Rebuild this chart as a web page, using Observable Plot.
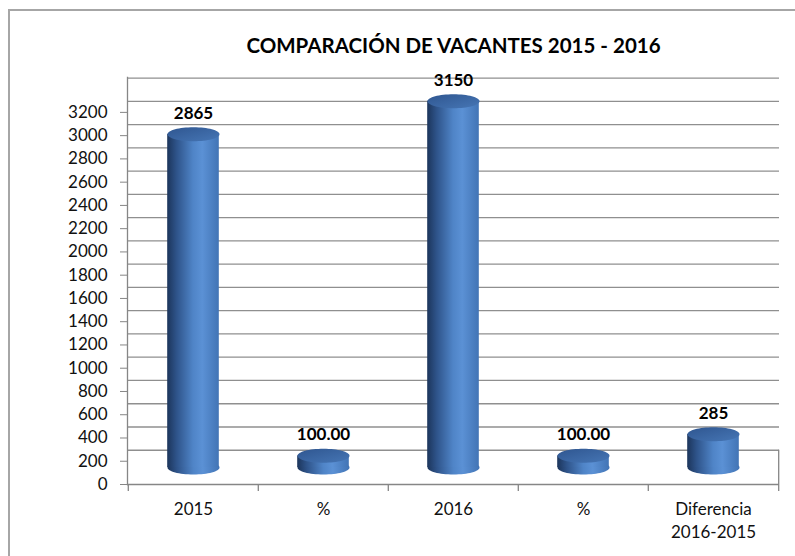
<!DOCTYPE html>
<html>
<head>
<meta charset="utf-8">
<script src="https://cdn.jsdelivr.net/npm/d3@7"></script>
<script src="https://cdn.jsdelivr.net/npm/@observablehq/plot@0.6"></script>
<style>
  html, body { margin: 0; padding: 0; background: #fff; }
  #wrap { position: relative; width: 795px; height: 556px; overflow: hidden; }
  #border { position: absolute; left: 8px; top: 9px; width: 900px; height: 700px;
            border-left: 2px solid #a6a6a6; border-top: 2px solid #a6a6a6; pointer-events: none; }
  svg { font-family: Lato, "Open Sans", sans-serif; }
</style>
</head>
<body>
<div id="wrap"><div id="border"></div></div>
<script>
// ---- data ----
const titleText = "COMPARACIÓN DE VACANTES 2015 - 2016";
const keys = ["2015", "pct2015", "2016", "pct2016", "dif"];
const categoryLabels = ["2015", "%", "2016", "%", "Diferencia\n2016-2015"];
const values = [2865, 100, 3150, 100, 285];
const valueLabels = ["2865", "100.00", "3150", "100.00", "285"];
const yTicks = d3.range(0, 3201, 200);
const gridValues = d3.range(200, 3401, 200);

const data = keys.map((k, i) => ({key: k, value: values[i], label: valueLabels[i]}));
const labelOf = new Map(keys.map((k, i) => [k, categoryLabels[i]]));

const W = 795, H = 556;
const mL = 127, mR = 16, mT = 77, mB = 72;
const step = (W - mL - mR) / keys.length;
const cylW = 52;
const lift = 17;      // 3D depth offset of cylinders
const wallLift = 11;  // 3D depth offset of back-wall gridlines

const ellipse = {
  draw(ctx) {
    const rx = cylW / 2, ry = 7, k = 0.5523;
    ctx.moveTo(-rx, 0);
    ctx.bezierCurveTo(-rx, -ry * k, -rx * k, -ry, 0, -ry);
    ctx.bezierCurveTo(rx * k, -ry, rx, -ry * k, rx, 0);
    ctx.bezierCurveTo(rx, ry * k, rx * k, ry, 0, ry);
    ctx.bezierCurveTo(-rx * k, ry, -rx, ry * k, -rx, 0);
    ctx.closePath();
  }
};

const defs = () => {
  const ns = "http://www.w3.org/2000/svg";
  const d = document.createElementNS(ns, "defs");
  d.innerHTML = `
    <linearGradient id="body" x1="0" x2="1" y1="0" y2="0">
      <stop offset="0" stop-color="#1c355b"/>
      <stop offset="0.18" stop-color="#2e5389"/>
      <stop offset="0.5" stop-color="#4f84c7"/>
      <stop offset="0.68" stop-color="#5b91d5"/>
      <stop offset="1" stop-color="#4274b5"/>
    </linearGradient>
    <linearGradient id="top" x1="0" x2="1" y1="0" y2="1">
      <stop offset="0" stop-color="#2f5690"/>
      <stop offset="1" stop-color="#4676b5"/>
    </linearGradient>`;
  return d;
};

const chart = Plot.plot({
  width: W, height: H,
  marginLeft: mL, marginRight: mR, marginTop: mT, marginBottom: mB,
  style: {fontFamily: "Lato, 'Open Sans', sans-serif", background: "transparent"},
  x: {type: "band", domain: keys, padding: 0},
  y: {domain: [0, 3500]},
  marks: [
    defs,
    // back wall gridlines
    Plot.ruleY(gridValues, {y: d => d, dy: -wallLift, stroke: "#8f8f8f", strokeWidth: 1.3}),
    // left wall edge and floor front edge
    Plot.frame({anchor: "left", stroke: "#868686", strokeWidth: 1.3}),
    Plot.ruleY([0], {stroke: "#868686", strokeWidth: 1.3}),
    // category boundary ticks
    Plot.ruleX(keys, {x: d => d, dx: -step / 2, y1: 0, y2: 0, insetBottom: -7, stroke: "#868686", strokeWidth: 1.3}),
    Plot.ruleX([keys[keys.length - 1]], {x: d => d, dx: step / 2, y1: 0, y2: 200, insetTop: 7, insetBottom: wallLift, stroke: "#868686", strokeWidth: 1.3}),
    Plot.axisY({ticks: yTicks, tickSize: 7, tickPadding: 13, fontSize: 17, stroke: "#868686", fill: "#111", label: null, tickFormat: d => String(d)}),
    Plot.axisX({tickSize: 0, tickPadding: 14, fontSize: 17, fill: "#111", lineHeight: 1.35, label: null, tickFormat: d => labelOf.get(d)}),
    // cylinders: bottom cap, body, top cap
    Plot.dot(data, {x: "key", y: () => 0, dy: -lift, symbol: ellipse, r: 5, fill: "url(#body)", stroke: "none"}),
    Plot.barY(data, {x: "key", y1: () => 0, y2: "value", dy: -lift, insetLeft: (step - cylW) / 2, insetRight: (step - cylW) / 2, fill: "url(#body)"}),
    Plot.dot(data, {x: "key", y: "value", dy: -lift, symbol: ellipse, r: 5, fill: "url(#top)", stroke: "none"}),
    // value labels
    Plot.text(data, {x: "key", y: "value", text: "label", dy: -38, fontSize: 17, fontWeight: "bold", fill: "#000"}),
    // title
    Plot.text([titleText], {frameAnchor: "top", dy: -39, fontSize: 20.5, fontWeight: "bold", fill: "#000"})
  ]
});
document.getElementById("wrap").appendChild(chart);
</script>
</body>
</html>
